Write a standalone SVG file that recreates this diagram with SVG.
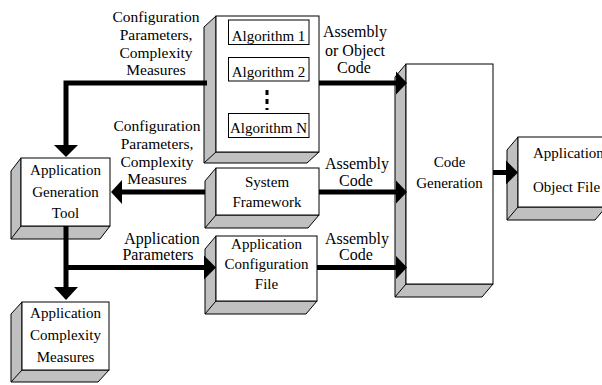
<svg xmlns="http://www.w3.org/2000/svg" width="602" height="385" viewBox="0 0 602 385">
  <style>
    .face { fill: #ffffff; stroke: #000000; stroke-width: 1; }
    .side { fill: #c0c0c0; stroke: #000000; stroke-width: 1; stroke-linejoin: miter; }
    .edge { fill: none; stroke: #000000; stroke-width: 1; }
    .inner { fill: #ffffff; stroke: #000000; stroke-width: 1; }
    .wire { fill: none; stroke: #000000; stroke-width: 5; stroke-linejoin: miter; }
    .head { fill: #000000; stroke: none; }
    text { font-family: "Liberation Serif", "Times New Roman", serif; fill: #000000; text-anchor: middle; }
    .lbl { font-size: 15px; }
    .note { font-size: 15.5px; }
    .note2 { font-size: 16px; }
  </style>
  <rect x="0" y="0" width="602" height="385" fill="#ffffff"/>

  <!-- Algorithm library -->
  <g id="algorithms">
    <polygon class="side" points="216,16 204,27 204,163 307,163 319,152 216,152"/>
    <rect class="face" x="216" y="16" width="103" height="136"/>
    <line class="edge" x1="216" y1="152" x2="204" y2="163"/>
    <rect class="inner" x="228.5" y="20" width="80.5" height="24.5"/>
    <text class="lbl" x="268.5" y="41">Algorithm 1</text>
    <rect class="inner" x="228.5" y="57.5" width="80.5" height="23.5"/>
    <text class="lbl" x="268.5" y="77">Algorithm 2</text>
    <line x1="267" y1="90" x2="267" y2="110" stroke="#000000" stroke-width="3" stroke-dasharray="5,4"/>
    <rect class="inner" x="228.5" y="113.5" width="80.5" height="24"/>
    <text class="lbl" x="268.5" y="133">Algorithm N</text>
  </g>

  <!-- Application Generation Tool -->
  <g id="generation-tool">
    <polygon class="side" points="21,158 11,171 11,239 100,239 110,226 21,226"/>
    <rect class="face" x="21" y="158" width="89" height="68"/>
    <line class="edge" x1="21" y1="226" x2="11" y2="239"/>
    <text class="lbl" x="65.5" y="175">Application</text>
    <text class="lbl" x="65.5" y="196.5">Generation</text>
    <text class="lbl" x="65.5" y="218">Tool</text>
  </g>

  <!-- Application Complexity Measures -->
  <g id="complexity-measures">
    <polygon class="side" points="22,302 11,314 11,382 98,382 109,370 22,370"/>
    <rect class="face" x="22" y="302" width="87" height="68"/>
    <line class="edge" x1="22" y1="370" x2="11" y2="382"/>
    <text class="lbl" x="65.5" y="317.5">Application</text>
    <text class="lbl" x="65.5" y="340">Complexity</text>
    <text class="lbl" x="65.5" y="362">Measures</text>
  </g>

  <!-- System Framework -->
  <g id="system-framework">
    <polygon class="side" points="216,168 205,181 205,228 308,228 319,215 216,215"/>
    <rect class="face" x="216" y="168" width="103" height="47"/>
    <line class="edge" x1="216" y1="215" x2="205" y2="228"/>
    <text class="lbl" x="267" y="187">System</text>
    <text class="lbl" x="267" y="207">Framework</text>
  </g>

  <!-- Application Configuration File -->
  <g id="configuration-file">
    <polygon class="side" points="216,236 205,249 205,314 306,314 317,301 216,301"/>
    <rect class="face" x="216" y="236" width="101" height="65"/>
    <line class="edge" x1="216" y1="301" x2="205" y2="314"/>
    <text class="lbl" x="266.5" y="248.5">Application</text>
    <text class="lbl" x="266.5" y="269">Configuration</text>
    <text class="lbl" x="266.5" y="289">File</text>
  </g>

  <!-- Code Generation -->
  <g id="code-generation">
    <polygon class="side" points="406,64 395,77 395,297 482,297 493,284 406,284"/>
    <rect class="face" x="406" y="64" width="87" height="220"/>
    <line class="edge" x1="406" y1="284" x2="395" y2="297"/>
    <text class="lbl" x="449.5" y="166.5">Code</text>
    <text class="lbl" x="449.5" y="187.5">Generation</text>
  </g>

  <!-- Application Object File -->
  <g id="object-file">
    <polygon class="side" points="518,137 507,150 507,220 595,220 606,207 518,207"/>
    <rect class="face" x="518" y="137" width="88" height="70"/>
    <line class="edge" x1="518" y1="207" x2="507" y2="220"/>
    <text class="lbl" x="533" y="158" style="text-anchor:start">Application</text>
    <text class="lbl" x="533" y="192" style="text-anchor:start">Object File</text>
  </g>

  <!-- Connectors (drawn over the bevelled sides) -->
  <g id="connectors">
    <!-- algorithms -> generation tool -->
    <polyline class="wire" points="207,83 66,83 66,146"/>
    <polygon class="head" points="54,145 78,145 66,157"/>
    <!-- algorithms -> code generation -->
    <line class="wire" x1="319" y1="83" x2="397" y2="83"/>
    <polygon class="head" points="396,71.5 396,94.5 407,83"/>
    <!-- system framework -> generation tool -->
    <line class="wire" x1="205" y1="192" x2="121" y2="192"/>
    <polygon class="head" points="122,180 122,204 111,192"/>
    <!-- system framework -> code generation -->
    <line class="wire" x1="319" y1="192" x2="397" y2="192"/>
    <polygon class="head" points="396,180.5 396,203.5 407,192"/>
    <!-- generation tool -> complexity measures / configuration file -->
    <line class="wire" x1="66" y1="226" x2="66" y2="288"/>
    <polygon class="head" points="54,287 78,287 66,300"/>
    <line class="wire" x1="66" y1="267.5" x2="205" y2="267.5"/>
    <polygon class="head" points="204,255.5 204,279.5 216,267.5"/>
    <!-- configuration file -> code generation -->
    <line class="wire" x1="317" y1="267.5" x2="397" y2="267.5"/>
    <polygon class="head" points="396,256 396,279 407,267.5"/>
    <!-- code generation -> object file -->
    <line class="wire" x1="493" y1="172.5" x2="507" y2="172.5"/>
    <polygon class="head" points="506,160.5 506,184.5 518,172.5"/>
  </g>

  <!-- Connector labels -->
  <g id="labels">
    <text class="note" x="156" y="22">Configuration</text>
    <text class="note" x="156" y="40">Parameters,</text>
    <text class="note" x="156" y="57.5">Complexity</text>
    <text class="note" x="156" y="75">Measures</text>

    <text class="note" x="157" y="131">Configuration</text>
    <text class="note" x="157" y="149">Parameters,</text>
    <text class="note" x="157" y="166.5">Complexity</text>
    <text class="note" x="157" y="183.5">Measures</text>

    <text class="note2" x="355" y="37">Assembly</text>
    <text class="note2" x="355" y="56">or Object</text>
    <text class="note2" x="354" y="73">Code</text>

    <text class="note2" x="357" y="168.5">Assembly</text>
    <text class="note2" x="356" y="186">Code</text>

    <text class="note2" x="357" y="243.5">Assembly</text>
    <text class="note2" x="356" y="259.5">Code</text>

    <text class="note2" x="162" y="244">Application</text>
    <text class="note2" x="158" y="259.5">Parameters</text>
  </g>
</svg>
